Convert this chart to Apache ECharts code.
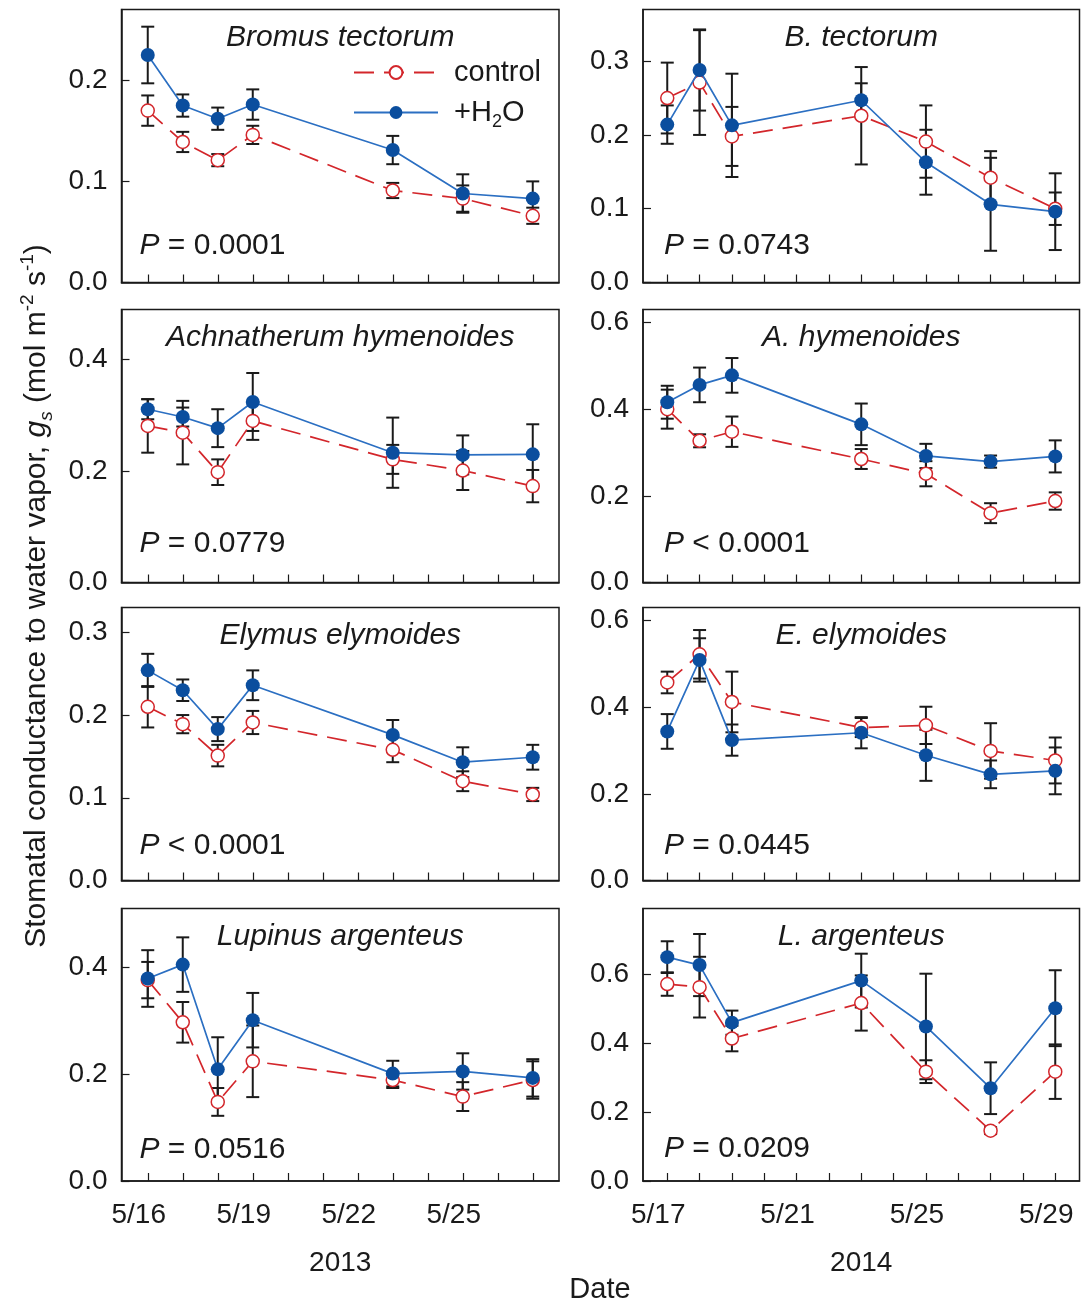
<!DOCTYPE html>
<html>
<head>
<meta charset="utf-8">
<script src="https://cdn.jsdelivr.net/npm/echarts@6/dist/echarts.min.js"></script>
<style>
  html, body { margin: 0; padding: 0; background: #ffffff; }
  #chart { width: 1081px; height: 1301px; }
</style>
</head>
<body>
<div id="chart"></div>
<script>
// Sampling dates (day of May) and axis ticks for each season
const days2013 = [16, 17, 18, 19, 23, 25, 27];
const days2014 = [17, 18, 19, 23, 25, 27, 29];
const tickDays2013 = [16, 17, 18, 19, 20, 21, 22, 23, 24, 25, 26, 27];
const tickDays2014 = [17, 18, 19, 20, 21, 22, 23, 24, 25, 26, 27, 28, 29];
const labelDays2013 = [16, 19, 22, 25];
const labelDays2014 = [17, 21, 25, 29];

// Stomatal conductance (mol m-2 s-1), means and standard errors
const bromus13Ctrl    = [0.170, 0.139, 0.121, 0.146, 0.091, 0.083, 0.066];
const bromus13CtrlSe  = [0.015, 0.010, 0.006, 0.009, 0.0075, 0.013, 0.008];
const bromus13Water   = [0.225, 0.175, 0.162, 0.176, 0.131, 0.088, 0.083];
const bromus13WaterSe = [0.028, 0.011, 0.011, 0.015, 0.014, 0.019, 0.017];

const bromus14Ctrl    = [0.250, 0.271, 0.198, 0.226, 0.191, 0.142, 0.100];
const bromus14CtrlSe  = [0.048, 0.071, 0.040, 0.066, 0.049, 0.036, 0.022];
const bromus14Water   = [0.214, 0.288, 0.213, 0.247, 0.163, 0.106, 0.096];
const bromus14WaterSe = [0.026, 0.055, 0.070, 0.023, 0.044, 0.063, 0.052];

const achna13Ctrl    = [0.281, 0.269, 0.198, 0.290, 0.221, 0.201, 0.173];
const achna13CtrlSe  = [0.048, 0.057, 0.023, 0.034, 0.026, 0.035, 0.029];
const achna13Water   = [0.311, 0.297, 0.277, 0.324, 0.233, 0.229, 0.230];
const achna13WaterSe = [0.018, 0.017, 0.034, 0.052, 0.063, 0.035, 0.054];

const achna14Ctrl    = [0.400, 0.327, 0.348, 0.285, 0.251, 0.160, 0.188];
const achna14CtrlSe  = [0.045, 0.015, 0.035, 0.023, 0.029, 0.023, 0.020];
const achna14Water   = [0.416, 0.456, 0.478, 0.365, 0.292, 0.279, 0.291];
const achna14WaterSe = [0.038, 0.040, 0.040, 0.048, 0.028, 0.014, 0.037];

const elymus13Ctrl    = [0.210, 0.189, 0.151, 0.191, 0.158, 0.120, 0.104];
const elymus13CtrlSe  = [0.025, 0.011, 0.013, 0.014, 0.015, 0.012, 0.008];
const elymus13Water   = [0.254, 0.230, 0.183, 0.236, 0.176, 0.143, 0.149];
const elymus13WaterSe = [0.020, 0.013, 0.0145, 0.018, 0.018, 0.018, 0.015];

const elymus14Ctrl    = [0.457, 0.522, 0.412, 0.353, 0.358, 0.299, 0.277];
const elymus14CtrlSe  = [0.025, 0.056, 0.070, 0.022, 0.043, 0.064, 0.053];
const elymus14Water   = [0.344, 0.509, 0.324, 0.341, 0.289, 0.245, 0.253];
const elymus14WaterSe = [0.040, 0.050, 0.036, 0.036, 0.059, 0.032, 0.054];

const lupinus13Ctrl    = [0.376, 0.297, 0.148, 0.224, 0.189, 0.158, 0.189];
const lupinus13CtrlSe  = [0.034, 0.038, 0.026, 0.067, 0.015, 0.027, 0.035];
const lupinus13Water   = [0.379, 0.405, 0.209, 0.301, 0.201, 0.205, 0.193];
const lupinus13WaterSe = [0.053, 0.051, 0.060, 0.051, 0.024, 0.034, 0.035];

const lupinus14Ctrl    = [0.571, 0.562, 0.413, 0.516, 0.317, 0.146, 0.317];
const lupinus14CtrlSe  = [0.034, 0.088, 0.037, 0.080, 0.033, 0.010, 0.079];
const lupinus14Water   = [0.649, 0.626, 0.459, 0.581, 0.448, 0.269, 0.501];
const lupinus14WaterSe = [0.046, 0.090, 0.035, 0.078, 0.153, 0.075, 0.110];

// Y-axis tick labels
const yTicksA = [0, 0.1, 0.2];
const yTicksB = [0, 0.1, 0.2, 0.3];
const yTicksC = [0, 0.2, 0.4];
const yTicksD = [0, 0.2, 0.4, 0.6];

// Panel text
const speciesTitles = ['Bromus tectorum', 'B. tectorum', 'Achnatherum hymenoides', 'A. hymenoides',
                       'Elymus elymoides', 'E. elymoides', 'Lupinus argenteus', 'L. argenteus'];
const pValues = ['= 0.0001', '= 0.0743', '= 0.0779', '< 0.0001', '< 0.0001', '= 0.0445', '= 0.0516', '= 0.0209'];
const years = ['2013', '2014'];

const panels = [
  { days: days2013, ctrl: bromus13Ctrl,  ctrlSe: bromus13CtrlSe,  water: bromus13Water,  waterSe: bromus13WaterSe,  yMax: 0.27, yTicks: yTicksA },
  { days: days2014, ctrl: bromus14Ctrl,  ctrlSe: bromus14CtrlSe,  water: bromus14Water,  waterSe: bromus14WaterSe,  yMax: 0.37, yTicks: yTicksB },
  { days: days2013, ctrl: achna13Ctrl,   ctrlSe: achna13CtrlSe,   water: achna13Water,   waterSe: achna13WaterSe,   yMax: 0.49, yTicks: yTicksC },
  { days: days2014, ctrl: achna14Ctrl,   ctrlSe: achna14CtrlSe,   water: achna14Water,   waterSe: achna14WaterSe,   yMax: 0.63, yTicks: yTicksD },
  { days: days2013, ctrl: elymus13Ctrl,  ctrlSe: elymus13CtrlSe,  water: elymus13Water,  waterSe: elymus13WaterSe,  yMax: 0.33, yTicks: yTicksB },
  { days: days2014, ctrl: elymus14Ctrl,  ctrlSe: elymus14CtrlSe,  water: elymus14Water,  waterSe: elymus14WaterSe,  yMax: 0.63, yTicks: yTicksD },
  { days: days2013, ctrl: lupinus13Ctrl, ctrlSe: lupinus13CtrlSe, water: lupinus13Water, waterSe: lupinus13WaterSe, yMax: 0.51, yTicks: yTicksC },
  { days: days2014, ctrl: lupinus14Ctrl, ctrlSe: lupinus14CtrlSe, water: lupinus14Water, waterSe: lupinus14WaterSe, yMax: 0.79, yTicks: yTicksD }
];

// Layout (pixels)
const FONT = "'Liberation Sans', Arial, Helvetica, sans-serif";
const INK = '#1a1a1a';
const BLUE_LINE = '#2b6fc2';
const BLUE_DOT = '#0b4e9e';
const RED = '#d3262b';
const colLeft = [121.5, 643];
const colWidth = [437.5, 436.5];
const rowTop = [9.5, 309.5, 607.5, 908.5];
const rowHeight = [273, 273, 273, 272.5];
const pTextY = [246, 246, 544, 544, 846, 846, 1150, 1149];

const grids = [], xAxes = [], yAxes = [], series = [], graphics = [];

panels.forEach((p, i) => {
  const col = i % 2, row = Math.floor(i / 2);
  const bottomRow = row === 3;
  const ticks = col === 0 ? tickDays2013 : tickDays2014;
  const labels = col === 0 ? labelDays2013 : labelDays2014;

  grids.push({
    left: colLeft[col], top: rowTop[row], width: colWidth[col], height: rowHeight[row],
    show: true, borderColor: INK, borderWidth: 1.5, backgroundColor: 'transparent'
  });

  xAxes.push({
    type: 'value', gridIndex: i,
    min: ticks[0] - 0.75, max: ticks[ticks.length - 1] + 0.75,
    axisLine: { show: true, lineStyle: { color: INK, width: 1.5 } },
    axisTick: { show: true, inside: true, length: 8, customValues: ticks, lineStyle: { color: INK, width: 1.2 } },
    axisLabel: {
      show: bottomRow, customValues: labels, formatter: v => '5/' + v,
      fontSize: 28, fontFamily: FONT, color: INK, margin: 20, padding: [0, 18, 0, 0]
    },
    splitLine: { show: false },
    name: bottomRow ? years[col] : '', nameLocation: 'middle', nameGap: 68,
    nameTextStyle: { fontSize: 28, fontFamily: FONT, color: INK }
  });

  yAxes.push({
    type: 'value', gridIndex: i, min: 0, max: p.yMax,
    axisLine: { show: true, lineStyle: { color: INK, width: 1.5 } },
    axisTick: { show: true, inside: true, length: 8, customValues: p.yTicks, lineStyle: { color: INK, width: 1.2 } },
    axisLabel: {
      customValues: p.yTicks, formatter: v => v.toFixed(1),
      fontSize: 28, fontFamily: FONT, color: INK, margin: 14
    },
    splitLine: { show: false }
  });

  // Error bars (mean ± SE) for both treatments
  const barData = [];
  p.days.forEach((d, k) => {
    barData.push([d, p.ctrl[k] - p.ctrlSe[k], p.ctrl[k] + p.ctrlSe[k]]);
    barData.push([d, p.water[k] - p.waterSe[k], p.water[k] + p.waterSe[k]]);
  });
  series.push({
    type: 'custom', name: 'se', xAxisIndex: i, yAxisIndex: i, z: 1, silent: true, clip: false,
    data: barData, encode: { x: 0, y: [1, 2] },
    renderItem(params, api) {
      const x = api.value(0);
      const lo = api.coord([x, api.value(1)]);
      const hi = api.coord([x, api.value(2)]);
      const hw = 6.5;
      const st = { stroke: INK, lineWidth: 2 };
      return {
        type: 'group', children: [
          { type: 'line', shape: { x1: hi[0], y1: hi[1], x2: lo[0], y2: lo[1] }, style: st },
          { type: 'line', shape: { x1: hi[0] - hw, y1: hi[1], x2: hi[0] + hw, y2: hi[1] }, style: st },
          { type: 'line', shape: { x1: lo[0] - hw, y1: lo[1], x2: lo[0] + hw, y2: lo[1] }, style: st }
        ]
      };
    }
  });

  series.push({
    type: 'line', name: 'control', xAxisIndex: i, yAxisIndex: i, z: 3,
    data: p.days.map((d, k) => [d, p.ctrl[k]]),
    symbol: 'circle', symbolSize: 13, showAllSymbol: true,
    lineStyle: { color: RED, width: 1.7, type: [20, 10] },
    itemStyle: { color: '#ffffff', borderColor: RED, borderWidth: 1.5 },
    emphasis: { disabled: true }
  });

  series.push({
    type: 'line', name: '+H2O', xAxisIndex: i, yAxisIndex: i, z: 4,
    data: p.days.map((d, k) => [d, p.water[k]]),
    symbol: 'circle', symbolSize: 14, showAllSymbol: true,
    lineStyle: { color: BLUE_LINE, width: 1.7 },
    itemStyle: { color: BLUE_DOT, borderWidth: 0 },
    emphasis: { disabled: true }
  });

  const cx = colLeft[col] + colWidth[col] / 2;
  graphics.push({
    type: 'text', x: cx, y: rowTop[row] + 28.5, z: 10,
    style: { text: speciesTitles[i], fontSize: 30, fontStyle: 'italic', fontFamily: FONT, fill: INK, align: 'center', verticalAlign: 'middle' }
  });
  graphics.push({
    type: 'text', x: colLeft[col] + (col === 0 ? 18 : 21), y: pTextY[i], z: 10,
    style: {
      text: '{i|P} ' + pValues[i], fontSize: 30, fontFamily: FONT, fill: INK, align: 'left', verticalAlign: 'middle',
      rich: { i: { fontSize: 30, fontStyle: 'italic', fontFamily: FONT, fill: INK } }
    }
  });
});

// Shared axis titles
graphics.push({
  type: 'text', x: 37, y: 596, rotation: Math.PI / 2, z: 10,
  style: {
    text: 'Stomatal conductance to water vapor, {i|g}{isub|s} (mol m{sup|-2} s{sup|-1})',
    fontSize: 30, fontFamily: FONT, fill: INK, align: 'center', verticalAlign: 'middle', lineHeight: 38,
    rich: {
      i: { fontSize: 30, fontStyle: 'italic', fontFamily: FONT, fill: INK, lineHeight: 38 },
      isub: { fontSize: 19, fontStyle: 'italic', fontFamily: FONT, fill: INK, lineHeight: 19, verticalAlign: 'bottom' },
      sup: { fontSize: 19, fontFamily: FONT, fill: INK, lineHeight: 19, verticalAlign: 'top' }
    }
  }
});
graphics.push({
  type: 'text', x: 600, y: 1290, z: 10,
  style: { text: 'Date', fontSize: 29, fontFamily: FONT, fill: INK, align: 'center', verticalAlign: 'middle' }
});

const option = {
  animation: false,
  backgroundColor: '#ffffff',
  grid: grids,
  xAxis: xAxes,
  yAxis: yAxes,
  series: series,
  legend: {
    data: ['control', '+H2O'], orient: 'vertical', left: 348, top: 49,
    itemWidth: 84, itemHeight: 16, itemGap: 3, selectedMode: false,
    formatter: n => (n === '+H2O' ? '+H{sub|2}O' : n),
    textStyle: {
      fontSize: 29, fontFamily: FONT, color: INK, lineHeight: 37, padding: [0, 0, 0, 11],
      rich: { sub: { fontSize: 18, fontFamily: FONT, color: INK, lineHeight: 18, verticalAlign: 'bottom' } }
    }
  },
  graphic: graphics
};

const chart = echarts.init(document.getElementById('chart'), null, { renderer: 'canvas' });
chart.setOption(option);
</script>
</body>
</html>
